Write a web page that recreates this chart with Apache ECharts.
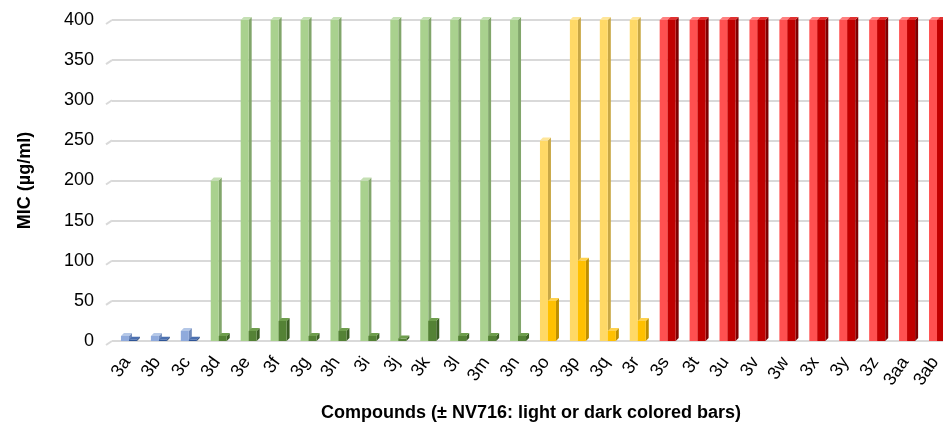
<!DOCTYPE html>
<html>
<head>
<meta charset="utf-8">
<script src="https://cdn.jsdelivr.net/npm/echarts@6/dist/echarts.min.js"></script>
<style>html,body{margin:0;padding:0;background:#fff}#c{width:943px;height:428px}</style>
</head>
<body>
<div id="c"></div>
<script>
// Data
var categories = ['3a','3b','3c','3d','3e','3f','3g','3h','3i','3j','3k','3l','3m','3n','3o','3p','3q','3r','3s','3t','3u','3v','3w','3x','3y','3z','3aa','3ab'];
var withoutNV716 = [6.25,6.25,12.5,200,400,400,400,400,200,400,400,400,400,400,250,400,400,400,400,400,400,400,400,400,400,400,400,400];
var withNV716 = [1.56,1.56,1.56,6.25,12.5,25,6.25,12.5,6.25,3.125,25,6.25,6.25,6.25,50,100,12.5,25,400,400,400,400,400,400,400,400,400,400];
var groups = ['blue','blue','blue','green','green','green','green','green','green','green','green','green','green','green','yellow','yellow','yellow','yellow','red','red','red','red','red','red','red','red','red','red'];
var yTickValues = [0,50,100,150,200,250,300,350,400];
var yTicks = {min:0, max:400, interval:50};

var palette = {
  blue:   {light:['#8FAADC','#6F89BA','#B4C7E7'], dark:['#2F5597','#1F3C6E','#4A6FB0']},
  green:  {light:['#A9D18E','#82A66B','#C5E0B4'], dark:['#548235','#3B5E24','#6E9E4C']},
  yellow: {light:['#FFD966','#C9A845','#FFE699'], dark:['#FFC000','#BF9000','#FFD24D']},
  red:    {light:['#FF5050','#D93A3A','#FF8080'], dark:['#C00000','#800000','#E03030']}
};

function makeRender(which){
  return function(params, api){
    var idx = api.value(0);
    var val = api.value(1);
    var base = api.coord([idx, 0]);
    var top = api.coord([idx, val]);
    var cx = base[0];
    var x0 = which === 'light' ? cx - 6 : cx + 2;
    var w = 8;
    var d = 3;
    var y0 = base[1], y1 = top[1];
    var col = palette[groups[idx]][which];
    return {
      type:'group',
      children:[
        {type:'polygon', shape:{points:[[x0+w,y1],[x0+w+d,y1-d],[x0+w+d,y0-d],[x0+w,y0]]}, style:{fill:col[1]}},
        {type:'rect', shape:{x:x0, y:y1, width:w, height:y0-y1}, style:{fill:col[0]}},
        {type:'polygon', shape:{points:[[x0,y1],[x0+d,y1-d],[x0+w+d,y1-d],[x0+w,y1]]}, style:{fill:col[2]}}
      ]
    };
  };
}

function renderStub(params, api){
  var p = api.coord([0, api.value(1)]);
  var left = params.coordSys.x;
  return {type:'line', shape:{x1:left-6, y1:p[1]+4, x2:left, y2:p[1]}, style:{stroke:'#d9d9d9', lineWidth:2}};
}

var chart = echarts.init(document.getElementById('c'), null, {renderer:'canvas'});
var font = 'Liberation Sans, Arial, sans-serif';
chart.setOption({
  animation:false,
  backgroundColor:'#fff',
  grid:{left:112, right:-7, top:20, bottom:87, containLabel:false, outerBoundsMode:'none'},
  xAxis:{
    type:'category', data:categories,
    axisLine:{show:false}, axisTick:{show:false},
    axisLabel:{rotate:55, fontSize:18, color:'#000', fontFamily:font, margin:18, interval:0},
    name:'Compounds (± NV716: light or dark colored bars)',
    nameLocation:'middle', nameGap:63,
    nameTextStyle:{fontSize:18, fontWeight:'bold', color:'#000', fontFamily:font}
  },
  yAxis:{
    type:'value', min:yTicks.min, max:yTicks.max, interval:yTicks.interval,
    axisLine:{show:false}, axisTick:{show:false},
    axisLabel:{fontSize:18, color:'#000', fontFamily:font, margin:18},
    splitLine:{lineStyle:{color:'#d9d9d9', width:2}},
    name:'MIC (µg/ml)', nameLocation:'middle', nameGap:78,
    nameTextStyle:{fontSize:18, fontWeight:'bold', color:'#000', fontFamily:font}
  },
  series:[
    {type:'custom', name:'floor', renderItem:renderStub, encode:{x:0,y:1}, silent:true,
     data:yTickValues.map(function(v){return [0,v];})},
    {type:'custom', name:'- NV716', renderItem:makeRender('light'), encode:{x:0,y:1},
     data:withoutNV716.map(function(v,i){return [i,v];})},
    {type:'custom', name:'+ NV716', renderItem:makeRender('dark'), encode:{x:0,y:1},
     data:withNV716.map(function(v,i){return [i,v];})}
  ]
});
</script>
</body>
</html>
